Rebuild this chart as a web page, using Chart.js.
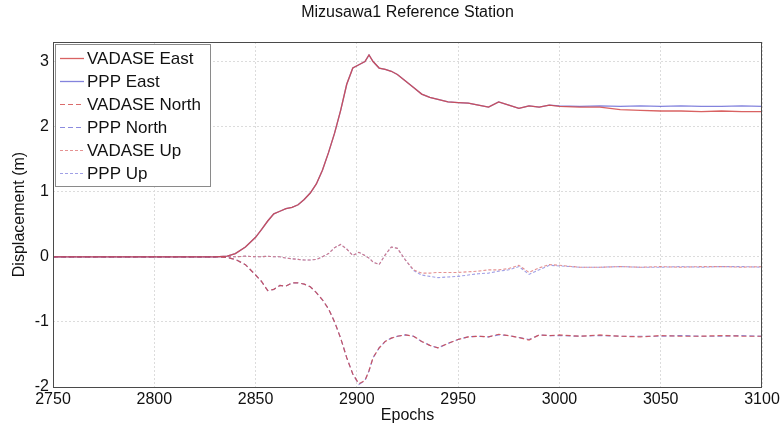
<!DOCTYPE html>
<html>
<head>
<meta charset="utf-8">
<script src="https://cdn.jsdelivr.net/npm/chart.js@4/dist/chart.umd.min.js"></script>
<style>
  html, body { margin: 0; padding: 0; background: #fff; }
  #wrap { width: 783px; height: 426px; }
</style>
</head>
<body>
<div id="wrap"><canvas id="chart"></canvas></div>
<script>
// epochs sampled along the record
const epochs = [2750, 2800, 2830, 2836, 2840, 2845, 2850, 2853, 2856, 2859, 2862, 2865, 2868, 2871, 2874, 2877,
  2880, 2883, 2886, 2889, 2892, 2895, 2898, 2901, 2904, 2906, 2908, 2911, 2914, 2917, 2920, 2924, 2928, 2932,
  2936, 2940, 2945, 2950, 2955, 2960, 2965, 2970, 2975, 2980, 2985, 2990, 2995, 3000, 3010, 3020, 3030, 3040,
  3050, 3060, 3070, 3080, 3090, 3100];

const vadaseEast = [0, 0, 0, 0.01, 0.05, 0.15, 0.3, 0.42, 0.55, 0.66, 0.7, 0.74, 0.76, 0.8, 0.88, 0.98,
  1.12, 1.33, 1.6, 1.9, 2.25, 2.65, 2.9, 2.95, 3.0, 3.1, 3.0, 2.9, 2.88, 2.85, 2.8, 2.7, 2.6, 2.5,
  2.45, 2.42, 2.38, 2.37, 2.36, 2.33, 2.3, 2.38, 2.33, 2.28, 2.32, 2.3, 2.33, 2.31, 2.3, 2.3, 2.26, 2.25,
  2.24, 2.24, 2.23, 2.24, 2.23, 2.23];
const pppEast = [0, 0, 0, 0.01, 0.05, 0.15, 0.3, 0.42, 0.55, 0.66, 0.7, 0.74, 0.76, 0.8, 0.88, 0.98,
  1.12, 1.33, 1.6, 1.9, 2.25, 2.65, 2.9, 2.95, 3.0, 3.1, 3.0, 2.9, 2.88, 2.85, 2.8, 2.7, 2.6, 2.5,
  2.45, 2.42, 2.38, 2.37, 2.36, 2.33, 2.3, 2.38, 2.33, 2.28, 2.32, 2.3, 2.33, 2.32, 2.31, 2.32, 2.31, 2.32,
  2.31, 2.32, 2.31, 2.31, 2.32, 2.31];

const vadaseNorth = [0, 0, 0, -0.01, -0.04, -0.12, -0.28, -0.38, -0.52, -0.5, -0.44, -0.45, -0.4, -0.4, -0.42, -0.46,
  -0.55, -0.66, -0.8, -1.0, -1.25, -1.55, -1.8, -1.95, -1.9, -1.75, -1.55, -1.4, -1.3, -1.25, -1.22, -1.2, -1.22, -1.3,
  -1.36, -1.4, -1.33, -1.27, -1.23, -1.22, -1.23, -1.19, -1.21, -1.24, -1.28, -1.2, -1.21, -1.2, -1.22, -1.2, -1.22, -1.23,
  -1.21, -1.22, -1.22, -1.21, -1.22, -1.22];
const pppNorth = [0, 0, 0, -0.01, -0.04, -0.12, -0.28, -0.38, -0.52, -0.5, -0.44, -0.45, -0.4, -0.4, -0.42, -0.46,
  -0.55, -0.66, -0.8, -1.0, -1.25, -1.55, -1.8, -1.96, -1.9, -1.75, -1.55, -1.4, -1.3, -1.25, -1.22, -1.2, -1.22, -1.3,
  -1.36, -1.4, -1.33, -1.27, -1.23, -1.22, -1.23, -1.2, -1.21, -1.24, -1.27, -1.2, -1.21, -1.21, -1.22, -1.21, -1.22, -1.22,
  -1.22, -1.21, -1.22, -1.22, -1.21, -1.22];

const vadaseUp = [0, 0, 0, 0, 0, 0.01, 0, 0, 0.01, 0, 0, -0.02, -0.03, -0.04, -0.05, -0.05,
  -0.04, 0, 0.05, 0.14, 0.19, 0.12, 0.02, 0.07, 0.02, -0.02, -0.08, -0.12, 0.03, 0.15, 0.13, -0.05, -0.2, -0.25,
  -0.25, -0.24, -0.24, -0.24, -0.23, -0.22, -0.2, -0.2, -0.18, -0.13, -0.24, -0.17, -0.12, -0.13, -0.16, -0.16, -0.15, -0.16,
  -0.15, -0.16, -0.15, -0.15, -0.16, -0.15];
const pppUp = [0, 0, 0, 0, 0, 0.01, 0, 0, 0.01, 0, 0, -0.02, -0.03, -0.04, -0.05, -0.05,
  -0.04, 0, 0.05, 0.14, 0.19, 0.12, 0.02, 0.07, 0.02, -0.02, -0.08, -0.12, 0.03, 0.15, 0.13, -0.05, -0.21, -0.28,
  -0.3, -0.32, -0.31, -0.3, -0.28, -0.26, -0.25, -0.22, -0.2, -0.15, -0.27, -0.2, -0.13, -0.14, -0.16, -0.16, -0.15, -0.16,
  -0.16, -0.15, -0.16, -0.15, -0.15, -0.16];

const xTicks = [2750, 2800, 2850, 2900, 2950, 3000, 3050, 3100];
const yTicks = [-2, -1, 0, 1, 2, 3];

const FONT = '"Liberation Sans", Arial, Helvetica, sans-serif';

function serie(label, values, color, dash, width) {
  return {
    label: label,
    data: epochs.map((e, i) => ({ x: e, y: values[i] })),
    borderColor: color,
    backgroundColor: color,
    borderDash: dash,
    borderWidth: width,
    pointRadius: 0,
    tension: 0,
    fill: false
  };
}

// cadre autour de la zone de tracé + légende encadrée style MATLAB
const framePlugin = {
  id: 'frame',
  afterDatasetsDraw(chart) {
    const { ctx, chartArea: a } = chart;
    ctx.save();
    ctx.strokeStyle = '#4a4a4a';
    ctx.lineWidth = 1;
    ctx.strokeRect(a.left + 0.5, a.top + 0.5, a.right - a.left - 1, a.bottom - a.top);

    // légende
    const rowH = 23;
    const left = a.left + 2, top = a.top + 2;
    const sets = chart.data.datasets;
    ctx.font = '17px ' + FONT;
    let textW = 0;
    sets.forEach(d => { textW = Math.max(textW, ctx.measureText(d.label).width); });
    const w = 33 + textW + 8;
    const h = sets.length * rowH + 4;
    ctx.fillStyle = '#fff';
    ctx.fillRect(left, top, w, h);
    ctx.strokeStyle = '#8a8a8a';
    ctx.strokeRect(left + 0.5, top + 0.5, w, h);
    ctx.textBaseline = 'middle';
    ctx.fillStyle = '#111';
    sets.forEach((d, i) => {
      const y = top + 14 + i * rowH;
      ctx.save();
      ctx.strokeStyle = d.borderColor;
      ctx.lineWidth = d.borderWidth;
      ctx.setLineDash(d.borderDash || []);
      ctx.beginPath();
      ctx.moveTo(left + 5, y + 0.5);
      ctx.lineTo(left + 29, y + 0.5);
      ctx.stroke();
      ctx.restore();
      ctx.fillText(d.label, left + 32, y + 1);
    });
    ctx.restore();
  }
};

new Chart(document.getElementById('chart'), {
  type: 'line',
  data: {
    datasets: [
      serie('VADASE East', vadaseEast, 'rgba(210,70,70,0.85)', [], 1.3),
      serie('PPP East', pppEast, 'rgba(90,90,210,0.75)', [], 1.3),
      serie('VADASE North', vadaseNorth, 'rgba(210,70,70,0.8)', [5, 3], 1.2),
      serie('PPP North', pppNorth, 'rgba(90,90,210,0.7)', [5, 3], 1.2),
      serie('VADASE Up', vadaseUp, 'rgba(220,110,110,0.75)', [3, 2], 1.1),
      serie('PPP Up', pppUp, 'rgba(120,120,220,0.7)', [3, 2], 1.1)
    ]
  },
  options: {
    responsive: true,
    maintainAspectRatio: false,
    animation: false,
    layout: { padding: { left: 0, right: 21, top: 0, bottom: 0 } },
    scales: {
      x: {
        type: 'linear',
        min: 2750,
        max: 3100,
        afterBuildTicks: s => { s.ticks = xTicks.map(v => ({ value: v })); },
        afterFit: s => { s.height = 39; },
        grid: { color: '#dcdcdc', drawTicks: false },
        border: { display: false, dash: [2, 2] },
        ticks: { padding: 3, color: '#111', font: { family: FONT, size: 16 }, callback: v => String(v) },
        title: { display: true, text: 'Epochs', color: '#111', padding: { top: 0, bottom: 1 }, font: { family: FONT, size: 16 } }
      },
      top: {
        type: 'linear',
        position: 'top',
        afterFit: s => { s.height = 42; },
        grid: { display: false },
        border: { display: false },
        ticks: { display: false },
        title: { display: true, text: 'Mizusawa1 Reference Station', color: '#111', padding: { top: 3, bottom: 0 }, font: { family: FONT, size: 16 } }
      },
      y: {
        min: -2,
        max: 3.3,
        afterBuildTicks: s => { s.ticks = yTicks.map(v => ({ value: v })); },
        afterFit: s => { s.width = 53; },
        grid: { color: '#dcdcdc', drawTicks: false },
        border: { display: false, dash: [2, 2] },
        ticks: { padding: 4, color: '#111', font: { family: FONT, size: 16 }, callback: v => String(v) },
        title: { display: true, text: 'Displacement (m)', color: '#111', padding: { top: 10, bottom: 0 }, font: { family: FONT, size: 16 } }
      }
    },
    plugins: {
      tooltip: { enabled: false },
      legend: { display: false }
    }
  },
  plugins: [framePlugin]
});
</script>
</body>
</html>
